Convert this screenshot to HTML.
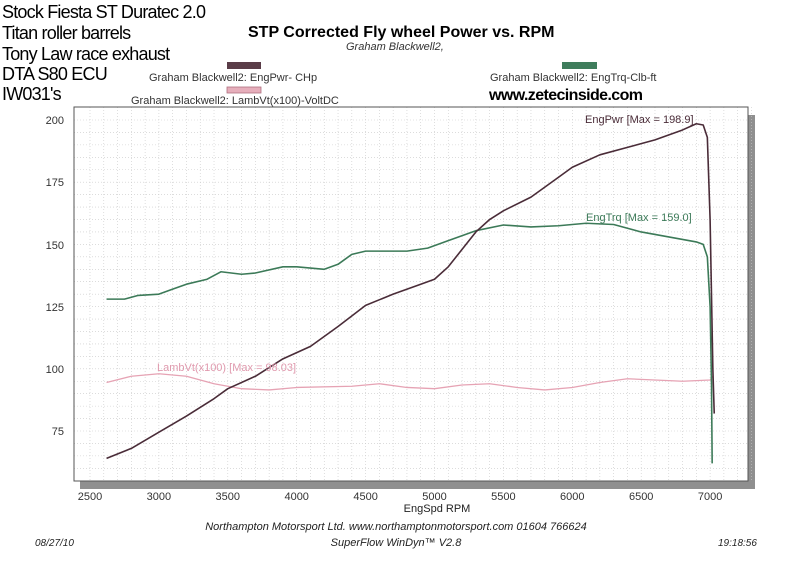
<!DOCTYPE html>
<html><head><meta charset="utf-8"><style>
body{margin:0;background:#fff;}
svg{display:block;font-family:"Liberation Sans",sans-serif;}
</style></head><body>
<svg id="s" width="800" height="565" viewBox="0 0 800 565" xmlns="http://www.w3.org/2000/svg">
<rect width="800" height="565" fill="#fff"/>
<g font-size="18" fill="#000" letter-spacing="-0.8">
<text x="2" y="18">Stock Fiesta ST Duratec 2.0</text>
<text x="2" y="39">Titan roller barrels</text>
<text x="2" y="60">Tony Law race exhaust</text>
<text x="2" y="80">DTA S80 ECU</text>
<text x="2" y="100">IW031's</text>
</g>
<text x="248" y="37" font-size="16" font-weight="bold">STP Corrected Fly wheel Power vs. RPM</text>
<text x="346" y="50" font-size="11" font-style="italic" fill="#333">Graham Blackwell2,</text>
<rect x="227" y="62" width="34" height="7" fill="#5a3c48"/>
<text x="149" y="81" font-size="11" fill="#333">Graham Blackwell2: EngPwr- CHp</text>
<rect x="227" y="87" width="34" height="6" fill="#e6aebb" stroke="#b07080" stroke-width="0.8"/>
<text x="131" y="104" font-size="11" fill="#333">Graham Blackwell2: LambVt(x100)-VoltDC</text>
<rect x="562" y="62" width="35" height="7" fill="#3f7d5c"/>
<text x="490" y="81" font-size="11" fill="#333">Graham Blackwell2: EngTrq-Clb-ft</text>
<text x="489" y="100" font-size="16" font-weight="bold" letter-spacing="-0.6">www.zetecinside.com</text>
<rect x="80" y="481" width="675" height="8" fill="#8f8f8f"/>
<rect x="748" y="115" width="7" height="374" fill="#8f8f8f"/>
<g id="grid" stroke="#c8c8c8" stroke-width="0.6" stroke-dasharray="1,2"></g>
<rect x="74" y="107" width="674" height="374" fill="none" stroke="#555" stroke-width="1"/>
<g font-size="11" fill="#333" text-anchor="end">
<text x="64" y="124">200</text><text x="64" y="186">175</text><text x="64" y="249">150</text>
<text x="64" y="311">125</text><text x="64" y="373">100</text><text x="64" y="435">75</text>
</g>
<g font-size="11" fill="#333" text-anchor="middle" id="xl"></g>
<text x="437" y="512" font-size="11" text-anchor="middle" fill="#222">EngSpd  RPM</text>
<text x="396" y="530" font-size="11" font-style="italic" text-anchor="middle" fill="#222">Northampton Motorsport Ltd. www.northamptonmotorsport.com 01604 766624</text>
<text x="396" y="546" font-size="11" font-style="italic" text-anchor="middle" fill="#222">SuperFlow WinDyn™ V2.8</text>
<text x="35" y="546" font-size="10" font-style="italic" fill="#222">08/27/10</text>
<text x="718" y="546" font-size="10" font-style="italic" fill="#222">19:18:56</text>
<g transform="matrix(0.1378 0 0 -2.488 -254.5 617.6)" fill="none" stroke-linejoin="round">
<polyline vector-effect="non-scaling-stroke" stroke="#e6a3b4" stroke-width="1.3" points="2620,94.5 2800,97 3000,98 3200,97 3400,94 3600,92 3800,91.5 4000,92.5 4400,93 4600,94 4800,92.5 5000,92 5200,93.5 5400,94 5600,92.5 5800,91.5 6000,92.5 6200,94.5 6400,96 6600,95.5 6800,95 7000,95.5 7020,97"/>
<polyline vector-effect="non-scaling-stroke" stroke="#3c7a58" stroke-width="1.6" points="2620,128 2750,128 2850,129.5 3000,130 3100,132 3200,134 3350,136 3450,139 3600,138 3700,138.5 3900,141 4000,141 4200,140 4300,142 4400,146 4500,147.3 4800,147.3 4950,148.5 5100,151.5 5300,155.5 5500,157.8 5700,157 5900,157.5 6100,158.5 6300,158 6500,155 6700,153 6900,151 6950,150 6980,145 7000,125 7010,95 7015,62"/>
<polyline vector-effect="non-scaling-stroke" stroke="#4a2c38" stroke-width="1.6" points="2620,64 2800,68 3000,74.5 3200,81 3400,88 3500,92 3700,97 3900,104 4100,109 4300,117 4500,125.5 4700,130 4900,134 5000,136 5100,141 5200,148 5300,155 5400,160 5500,163.5 5700,169 5900,177 6000,181 6200,186 6400,189 6600,192 6800,196 6900,198.5 6950,198 6980,193 7000,160 7020,100 7030,82"/>
</g>
<text x="585" y="123" font-size="11" fill="#4a2c38">EngPwr [Max = 198.9]</text>
<text x="586" y="221" font-size="11" fill="#3c7a58">EngTrq [Max = 159.0]</text>
<text x="157" y="371" font-size="11" fill="#e09aae">LambVt(x100) [Max = 98.03]</text>
</svg>
<script>
var g=document.getElementById('grid'),ns='http://www.w3.org/2000/svg';
function ln(x1,y1,x2,y2){var l=document.createElementNS(ns,'line');l.setAttribute('x1',x1);l.setAttribute('y1',y1);l.setAttribute('x2',x2);l.setAttribute('y2',y2);g.appendChild(l);}
for(var r=2500;r<=7300;r+=100){var x=0.1378*r-254.5;ln(x,107,x,481);}
for(var v=55;v<=200;v+=5){var y=-2.488*v+617.6;ln(74,y,748,y);}
var xl=document.getElementById('xl');
for(var r=2500;r<=7000;r+=500){var t=document.createElementNS(ns,'text');t.setAttribute('x',0.1378*r-254.5);t.setAttribute('y',500);t.textContent=r;xl.appendChild(t);}
</script>
</body></html>
